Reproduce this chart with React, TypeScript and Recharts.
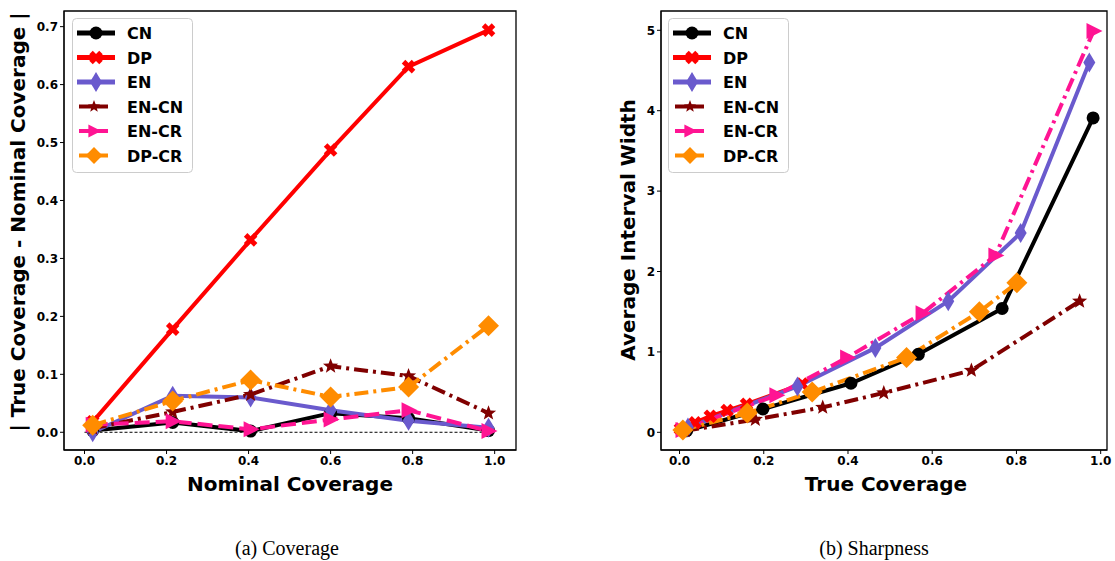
import React from 'react';
import { LineChart, Line, XAxis, YAxis, ReferenceLine, ReferenceArea } from 'recharts';

const methods = ['CN', 'DP', 'EN', 'EN-CN', 'EN-CR', 'DP-CR'];
const nominal = [0.02, 0.215, 0.405, 0.6, 0.79, 0.985];

// (a) |true coverage - nominal coverage|
const errCN = [0.003, 0.017, 0.002, 0.033, 0.024, 0.003];
const errDP = [0.018, 0.178, 0.332, 0.487, 0.631, 0.694];
const errEN = [0.0, 0.063, 0.06, 0.038, 0.02, 0.008];
const errENCN = [0.007, 0.035, 0.065, 0.114, 0.097, 0.033];
const errENCR = [0.013, 0.019, 0.005, 0.022, 0.038, 0.002];
const errDPCR = [0.012, 0.054, 0.09, 0.061, 0.078, 0.184];

// (b) true coverage vs average interval width
const trueCN = [0.017, 0.198, 0.407, 0.567, 0.766, 0.982];
const widthCN = [0.02, 0.29, 0.61, 0.97, 1.54, 3.91];
const trueDP = [0.002, 0.037, 0.073, 0.113, 0.159, 0.291];
const widthDP = [0.04, 0.12, 0.2, 0.27, 0.35, 0.6];
const trueEN = [0.02, 0.28, 0.465, 0.638, 0.81, 0.973];
const widthEN = [0.06, 0.57, 1.05, 1.63, 2.48, 4.6];
const trueENCN = [0.013, 0.18, 0.34, 0.485, 0.693, 0.95];
const widthENCN = [0.02, 0.16, 0.31, 0.49, 0.77, 1.63];
const trueENCR = [0.007, 0.23, 0.398, 0.577, 0.75, 0.983];
const widthENCR = [0.03, 0.46, 0.93, 1.48, 2.2, 4.99];
const trueDPCR = [0.008, 0.161, 0.315, 0.539, 0.712, 0.801];
const widthDPCR = [0.03, 0.24, 0.5, 0.93, 1.5, 1.86];

const xTicks = [0, 0.2, 0.4, 0.6, 0.8, 1.0];
const errTicks = [0, 0.1, 0.2, 0.3, 0.4, 0.5, 0.6, 0.7];
const widthTicks = [0, 1, 2, 3, 4, 5];

const errSeries = [errCN, errDP, errEN, errENCN, errENCR, errDPCR];
const trueSeries = [trueCN, trueDP, trueEN, trueENCN, trueENCR, trueDPCR];
const widthSeries = [widthCN, widthDP, widthEN, widthENCN, widthENCR, widthDPCR];

type Shape = 'o' | 'X' | 'd' | '*' | '>' | 'D';

const styles: { color: string; shape: Shape; dashA?: string; dashB?: string; lw: number }[] = [
  { color: '#000000', shape: 'o', lw: 4 },
  { color: '#ff0000', shape: 'X', lw: 4 },
  { color: '#6a5acd', shape: 'd', lw: 4 },
  { color: '#800000', shape: '*', dashA: '14 5 3 5', dashB: '14 5 3 5', lw: 4 },
  { color: '#ff1493', shape: '>', dashA: '15 6', dashB: '14 5 3 5', lw: 4 },
  { color: '#ff8c00', shape: 'D', dashA: '14 5 3 5', dashB: '14 5 3 5', lw: 4 },
];

const FONT = '"DejaVu Sans", sans-serif';

function starPoints(r1: number, r2: number) {
  const pts: string[] = [];
  for (let i = 0; i < 10; i++) {
    const r = i % 2 === 0 ? r1 : r2;
    const a = -Math.PI / 2 + (i * Math.PI) / 5;
    pts.push(`${(r * Math.cos(a)).toFixed(2)},${(r * Math.sin(a)).toFixed(2)}`);
  }
  return pts.join(' ');
}

function Marker({ shape, color, cx, cy, k = 1 }: { shape: Shape; color: string; cx: number; cy: number; k?: number }) {
  if (cx == null || cy == null || isNaN(cx) || isNaN(cy)) return null;
  const t = `translate(${cx},${cy}) scale(${k})`;
  switch (shape) {
    case 'o':
      return <circle cx={cx} cy={cy} r={6.5 * k} fill={color} />;
    case 'X':
      return (
        <g transform={t}>
          <line x1={-5} y1={-5} x2={5} y2={5} stroke={color} strokeWidth={5} />
          <line x1={-5} y1={5} x2={5} y2={-5} stroke={color} strokeWidth={5} />
        </g>
      );
    case 'd':
      return <polygon transform={t} points="0,-10 6,0 0,10 -6,0" fill={color} />;
    case '*':
      return <polygon transform={t} points={starPoints(8, 3.4)} fill={color} />;
    case '>':
      return <polygon transform={t} points="9,0 -7,-8 -7,8" fill={color} />;
    case 'D':
      return <polygon transform={t} points="0,-10.5 10.5,0 0,10.5 -10.5,0" fill={color} />;
  }
  return null;
}

const tickStyle = { fontSize: 12, fontWeight: 700, fill: '#000', fontFamily: FONT };

function Legend({ left, top }: { left: number; top: number }) {
  const rowY = [15, 39.5, 64, 88.5, 113, 137.5];
  return (
    <svg width={122} height={156} style={{ position: 'absolute', left, top }}>
      <rect x={0.5} y={0.5} width={120} height={154} rx={4} fill="rgba(255,255,255,0.85)" stroke="#cccccc" />
      {methods.map((m, i) => {
        const s = styles[i];
        const big = i < 3;
        return (
          <g key={m}>
            <line x1={big ? 5 : 7} x2={big ? 43 : 36} y1={rowY[i]} y2={rowY[i]} stroke={s.color} strokeWidth={big ? 5 : 4} />
            <Marker shape={s.shape} color={s.color} cx={big ? 24 : 22} cy={rowY[i]} k={big ? 1 : 0.8} />
            <text x={55} y={rowY[i] + 6} fontFamily={FONT} fontWeight={700} fontSize={16} fill="#000">
              {m}
            </text>
          </g>
        );
      })}
    </svg>
  );
}

function Label({ text, x, y, rotate = false, size = 20, serif = false }: { text: string; x: number; y: number; rotate?: boolean; size?: number; serif?: boolean }) {
  return (
    <div
      style={{
        position: 'absolute',
        left: x,
        top: y,
        transform: `translate(-50%, -50%)${rotate ? ' rotate(-90deg)' : ''}`,
        whiteSpace: 'nowrap',
        fontFamily: serif ? '"Liberation Serif", "Times New Roman", serif' : FONT,
        fontWeight: serif ? 400 : 700,
        fontSize: size,
        color: '#000',
      }}
    >
      {text}
    </div>
  );
}

export default function App() {
  const covData = errSeries.map((ys) => nominal.map((x, i) => ({ x, y: ys[i] })));
  const sharpData = trueSeries.map((xs, j) => xs.map((x, i) => ({ x, y: widthSeries[j][i] })));
  const xDomA: [number, number] = [-0.05, 1.052];
  const yDomA: [number, number] = [-0.0306, 0.727];
  const xDomB: [number, number] = [-0.044, 1.015];
  const yDomB: [number, number] = [-0.22, 5.24];

  return (
    <div style={{ position: 'absolute', left: 0, top: 0, width: 1115, height: 561, background: '#fff', overflow: 'hidden' }}>
      <div style={{ position: 'absolute', left: 0, top: 0 }}>
        <LineChart width={560} height={480} margin={{ top: 11, right: 44, bottom: 0, left: 0 }}>
          <XAxis dataKey="x" type="number" domain={xDomA} ticks={xTicks} allowDataOverflow height={30}
            tick={tickStyle} tickFormatter={(v: number) => v.toFixed(1)} tickSize={4} stroke="#000" />
          <YAxis type="number" domain={yDomA} ticks={errTicks} allowDataOverflow width={64}
            tick={tickStyle} tickFormatter={(v: number) => v.toFixed(1)} tickSize={4} stroke="#000" />
          <ReferenceLine segment={[{ x: 0, y: 0 }, { x: 1, y: 0 }]} stroke="#000" strokeWidth={1} strokeDasharray="3 2" />
          {methods.map((m, i) => {
            const s = styles[i];
            return (
              <Line key={m} data={covData[i]} dataKey="y" name={m} stroke={s.color} strokeWidth={s.lw}
                strokeDasharray={s.dashA} isAnimationActive={false}
                dot={(p: any) => <Marker key={`a-${m}-${p.index}`} shape={s.shape} color={s.color} cx={p.cx} cy={p.cy} />}
                activeDot={false} />
            );
          })}
          <ReferenceArea x1={xDomA[0]} x2={xDomA[1]} y1={yDomA[0]} y2={yDomA[1]} fill="none" stroke="#000" strokeWidth={1.3} ifOverflow="visible" />
        </LineChart>
      </div>
      <div style={{ position: 'absolute', left: 600, top: 0 }}>
        <LineChart width={515} height={480} margin={{ top: 11, right: 8, bottom: 0, left: 0 }}>
          <XAxis dataKey="x" type="number" domain={xDomB} ticks={xTicks} allowDataOverflow height={30}
            tick={tickStyle} tickFormatter={(v: number) => v.toFixed(1)} tickSize={4} stroke="#000" />
          <YAxis type="number" domain={yDomB} ticks={widthTicks} allowDataOverflow width={61}
            tick={tickStyle} tickSize={4} stroke="#000" />
          {methods.map((m, i) => {
            const s = styles[i];
            return (
              <Line key={m} data={sharpData[i]} dataKey="y" name={m} stroke={s.color} strokeWidth={s.lw}
                strokeDasharray={s.dashB} isAnimationActive={false}
                dot={(p: any) => <Marker key={`b-${m}-${p.index}`} shape={s.shape} color={s.color} cx={p.cx} cy={p.cy} />}
                activeDot={false} />
            );
          })}
          <ReferenceArea x1={xDomB[0]} x2={xDomB[1]} y1={yDomB[0]} y2={yDomB[1]} fill="none" stroke="#000" strokeWidth={1.3} ifOverflow="visible" />
        </LineChart>
      </div>
      <Legend left={72} top={18} />
      <Legend left={668} top={18} />
      <Label text="Nominal Coverage" x={290} y={484} />
      <Label text="True Coverage" x={886} y={484} />
      <Label text="| True Coverage - Nominal Coverage |" x={18} y={222} rotate />
      <Label text="Average Interval Width" x={628} y={230} rotate />
      <Label text="(a) Coverage" x={287} y={548} serif size={20} />
      <Label text="(b) Sharpness" x={874} y={548} serif size={20} />
    </div>
  );
}
